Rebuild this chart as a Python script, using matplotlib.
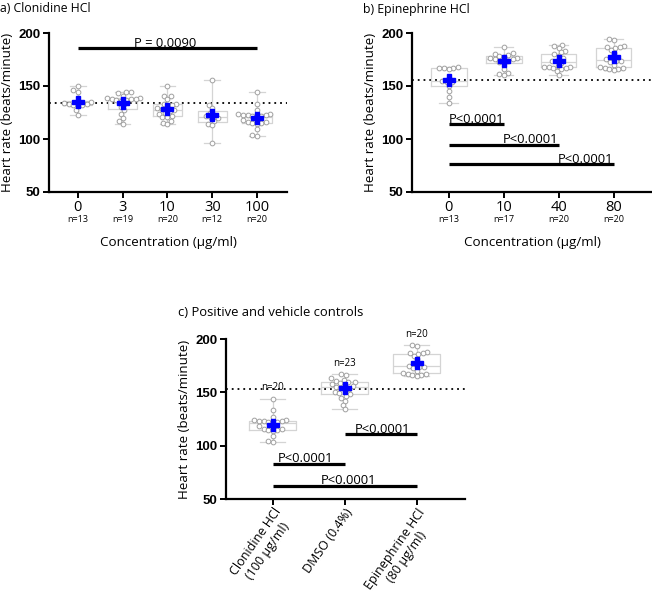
import numpy as np
import matplotlib.pyplot as plt

plt.rcParams['font.family'] = ['Open Sans', 'DejaVu Sans']

# a) Clonidine HCl
clon_doses = ['0', '3', '10', '30', '100']
clon_n = ['n=13', 'n=19', 'n=20', 'n=12', 'n=20']
clon_0 = [150, 146, 144, 136, 135, 134, 133, 133, 132, 132, 131, 127, 123]
clon_3 = [144, 144, 143, 141, 139, 139, 138, 138, 138, 137, 137, 136, 133,
          130, 127, 124, 120, 117, 114]
clon_10 = [150, 141, 141, 138, 133, 133, 132, 130, 129, 128, 127, 126, 125,
           124, 122, 121, 121, 117, 115, 114]
clon_30 = [156, 132, 129, 125, 123, 122, 120, 120, 117, 114, 113, 96]
clon_100 = [144, 133, 127, 124, 124, 123, 123, 123, 122, 122, 120, 118, 116,
            116, 115, 115, 114, 109, 104, 103]
clon_groups = [clon_0, clon_3, clon_10, clon_30, clon_100]
clon_ref = 134.3
clon_tests = [(0, 4, 'P = 0.0090')]

# b) Epinephrine HCl
epi_doses = ['0', '10', '40', '80']
epi_n = ['n=13', 'n=17', 'n=20', 'n=20']
epi_0 = [168, 167, 167, 167, 166, 158, 155, 154, 154, 150, 145, 140, 134]
epi_10 = [187, 181, 180, 179, 178, 177, 176, 176, 175, 175, 174, 173, 172,
          166, 162, 161, 160]
epi_40 = [189, 188, 186, 183, 182, 180, 178, 176, 174, 174, 172, 169, 168,
          168, 168, 167, 167, 166, 164, 160]
epi_80 = [194, 193, 188, 187, 187, 186, 184, 181, 177, 175, 174, 174, 173,
          170, 168, 167, 167, 166, 166, 165]
epi_groups = [epi_0, epi_10, epi_40, epi_80]
epi_ref = 155.4
epi_tests = [(0, 1, 'P<0.0001'), (0, 2, 'P<0.0001'), (0, 3, 'P<0.0001')]

# c) Positive and vehicle controls
ctrl_names = ['Clonidine HCl\n(100 µg/ml)', 'DMSO (0.4%)',
              'Epinephrine HCl\n(80 µg/ml)']
ctrl_n = ['n=20', 'n=23', 'n=20']
dmso = [167, 166, 163, 162, 161, 160, 160, 159, 158, 157, 156, 155, 154,
        153, 152, 150, 149, 148, 147, 145, 142, 138, 134]
ctrl_groups = [clon_100, dmso, epi_80]
ctrl_ref = 153.1
ctrl_tests = [(0, 1, 'P<0.0001'), (1, 2, 'P<0.0001'), (0, 2, 'P<0.0001')]


def swarm_x(ax, x, vals, d=4.6):
    # simple beeswarm in pixel space
    pts = ax.transData.transform(np.column_stack([np.full(len(vals), x), vals]))
    ys = pts[:, 1]
    x0 = pts[0, 0]
    cands = sorted(np.arange(-40, 40.01, 0.5), key=lambda c: (abs(c), c))
    placed = []
    offs = np.zeros(len(vals))
    for i in np.argsort(ys):
        for c in cands:
            if all((c - px) ** 2 + (ys[i] - py) ** 2 >= d * d for px, py in placed):
                break
        placed.append((c, ys[i]))
        offs[i] = c
    back = ax.transData.inverted().transform(np.column_stack([x0 + offs, ys]))
    return back[:, 0]


def setup_axes(rect, xlim, ref):
    ax = fig.add_axes(rect)
    ax.set_xlim(*xlim)
    ax.set_ylim(50, 200)
    ax.set_yticks([50, 100, 150, 200])
    for s in ['top', 'right']:
        ax.spines[s].set_visible(False)
    for s in ['left', 'bottom']:
        ax.spines[s].set_linewidth(1.6)
    ax.tick_params(width=1.4, length=4, pad=2)
    ax.tick_params(axis='x', labelsize=10.5)
    for lbl in ax.get_yticklabels():
        lbl.set_fontfamily('Liberation Sans')
        lbl.set_fontweight('bold')
        lbl.set_fontsize(9.5)
    ax.axhline(ref, color='black', ls=(0, (1, 2.2)), lw=1.3, zorder=1)
    ax.set_ylabel('Heart rate (beats/minute)', fontsize=9.6, labelpad=3)
    return ax


def draw_groups(ax, groups):
    pos = np.arange(len(groups))
    ax.boxplot(groups, positions=pos, widths=0.65, whis=(0, 100),
               showfliers=False, capwidths=0.35, manage_ticks=False,
               boxprops=dict(color='#d4d4d4', lw=0.9),
               whiskerprops=dict(color='#d4d4d4', lw=0.9),
               capprops=dict(color='#d4d4d4', lw=0.9),
               medianprops=dict(color='#d4d4d4', lw=0.9))
    for i, g in enumerate(groups):
        xs = swarm_x(ax, i, g)
        ax.plot(xs, g, 'o', ms=3.4, mfc='white', mec='#a0a0a0', mew=0.7,
                ls='none', zorder=3)
        ax.plot(i, np.mean(g), 'P', ms=8, color='#0000ff', mec='#0000ff',
                zorder=4)


def draw_test(ax, i, j, y, label, tx, ha):
    ax.plot([i, j], [y, y], color='black', lw=2.3, solid_capstyle='butt', zorder=5)
    ax.text(tx, y + 1.5, label, ha=ha, va='baseline', fontsize=9.4)


fig = plt.figure(figsize=(6.52, 6.0), dpi=100)

# panel a
W, H = 652, 600
ax1 = setup_axes([49 / W, 1 - 192 / H, 238 / W, 159 / H], (-0.645, 4.67), clon_ref)
draw_groups(ax1, clon_groups)
ax1.set_xticks(range(len(clon_doses)))
ax1.set_xticklabels(clon_doses)
for i, t in enumerate(clon_n):
    ax1.annotate(t, (i, 0), xycoords=ax1.get_xaxis_transform(), xytext=(0, -20),
                 textcoords='offset points', ha='center', va='center', fontsize=6.5)
ax1.set_xlabel('Concentration (µg/ml)', fontsize=9.6, labelpad=15)
for (i, j, lab), y in zip(clon_tests, [185.5]):
    draw_test(ax1, i, j, y, lab, (i + j) / 2 - 0.05, 'center')

# panel b
ax2 = setup_axes([412 / W, 1 - 192 / H, 240 / W, 159 / H], (-0.67, 3.7), epi_ref)
draw_groups(ax2, epi_groups)
ax2.set_xticks(range(len(epi_doses)))
ax2.set_xticklabels(epi_doses)
for i, t in enumerate(epi_n):
    ax2.annotate(t, (i, 0), xycoords=ax2.get_xaxis_transform(), xytext=(0, -20),
                 textcoords='offset points', ha='center', va='center', fontsize=6.5)
ax2.set_xlabel('Concentration (µg/ml)', fontsize=9.6, labelpad=15)
for (i, j, lab), y, tx, ha in zip(epi_tests, [113.9, 94.3, 76.0],
                                  [0.5, 2, 3], ['center', 'right', 'right']):
    draw_test(ax2, i, j, y, lab, tx, ha)

# panel c
ax3 = setup_axes([226 / W, 1 - 499 / H, 239 / W, 160 / H], (-0.65, 2.67), ctrl_ref)
draw_groups(ax3, ctrl_groups)
ax3.set_xticks(range(len(ctrl_names)))
ax3.set_xticklabels(ctrl_names, rotation=55, ha='right', va='top',
                    rotation_mode='anchor', fontsize=9.0, ma='center')
ax3.tick_params(axis='x', pad=1)
for i, (t, g) in enumerate(zip(ctrl_n, ctrl_groups)):
    ax3.annotate(t, (i, max(g)), xytext=(0, 8), textcoords='offset points',
                 ha='center', va='center', fontsize=7)
for (i, j, lab), y, tx in zip(ctrl_tests, [82.8, 110.7, 62.5], [0.45, 1.52, 1.05]):
    draw_test(ax3, i, j, y, lab, tx, 'center')

fig.text(0, 1 - 9 / H, 'a) Clonidine HCl', fontsize=8.8, va='center')
fig.text(363 / W, 1 - 9 / H, 'b) Epinephrine HCl', fontsize=8.8, va='center')
fig.text(178 / W, 1 - 313 / H, 'c) Positive and vehicle controls', fontsize=9.4,
         va='center')

fig.savefig('out.png', dpi=100)
